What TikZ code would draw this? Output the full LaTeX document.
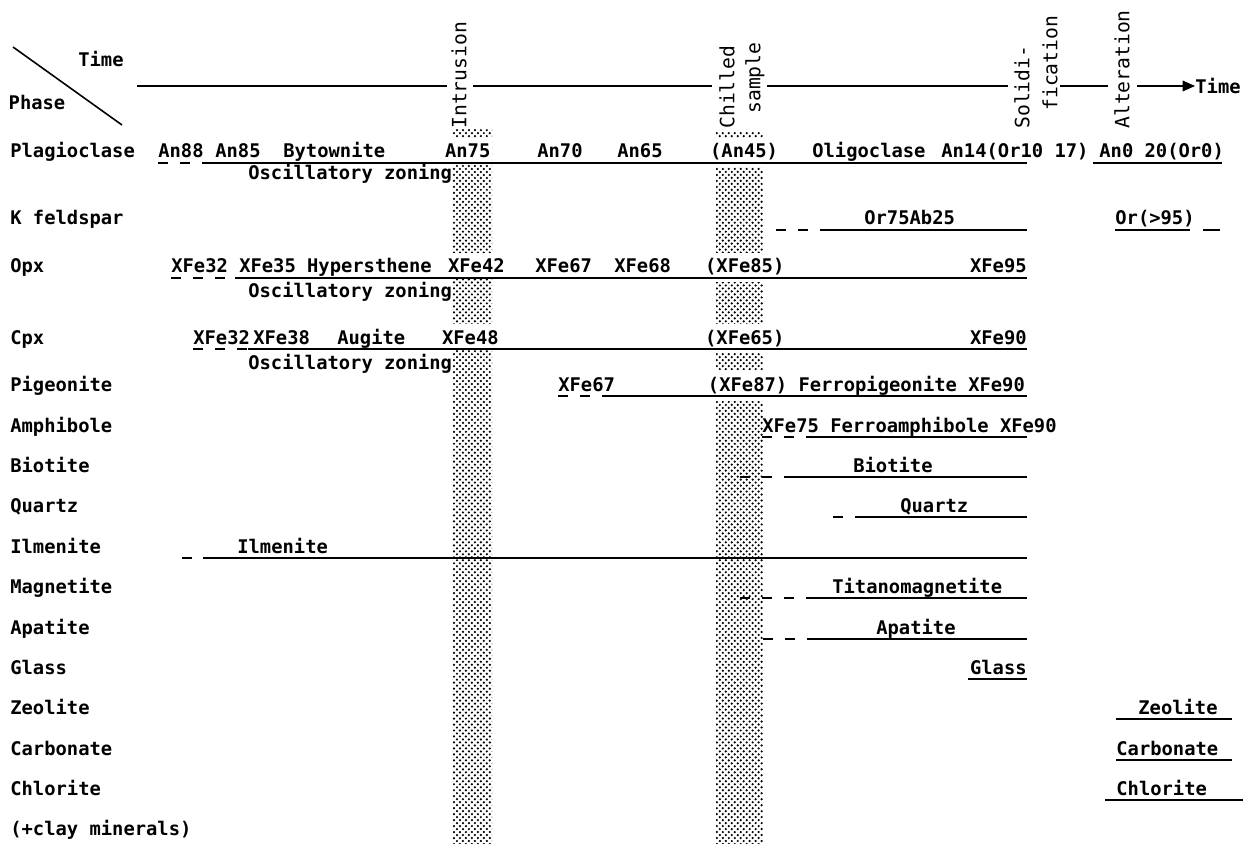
\documentclass[tikz,border=0pt]{standalone}
\usepackage{fontspec}
\usetikzlibrary{arrows.meta,patterns}
\newfontfamily\typfont{DejaVu Sans Mono}
% dense dot screen of the two time bands
\pgfdeclarepatternformonly{bardots}{\pgfpoint{-1pt}{-1pt}}{\pgfpoint{2.4pt}{2.4pt}}{\pgfpoint{3.4pt}{3.4pt}}%
{\pgfpathcircle{\pgfpointorigin}{.7pt}\pgfpathcircle{\pgfpoint{1.7pt}{1.7pt}}{.7pt}\pgfusepath{fill}}
\tikzset{
  phase/.style={anchor=base west, inner sep=0pt, font=\typfont\bfseries\fontsize{10.7}{12}\selectfont},
  val/.style={phase, fill=white, inner xsep=1pt, inner ysep=3.5pt},
  event/.style={rotate=90, anchor=west, inner sep=0pt, font=\typfont\fontsize{11.2}{13}\selectfont},
  bar/.style={pattern=bardots, pattern color=black},
  rangeline/.style={line width=0.9pt},
  leadline/.style={rangeline, dash pattern=on 5.5pt off 7pt},
}
\begin{document}
\begin{tikzpicture}[x=0.02cm, y=-0.02cm]
\useasboundingbox (0,0) rectangle (1257,844);
% shaded bars: intrusion and chilled sample
\fill[bar] (452,130) rectangle (492,844);
\fill[bar] (716,133) rectangle (763,844);
% heading
\draw[rangeline] (13,47) -- (122,125);
\node[phase, anchor=center] (tm) at (101,59) {Time};
\node[phase, anchor=center] (ph) at (37,102) {Phase};
\node[event] (intr) at (459,129) {Intrusion};
\node[event] (chil) at (727,129) {Chilled};
\node[event] (samp) at (755,114) {sample};
\node[event] (soli) at (1022,129) {Solidi-};
\node[event] (fica) at (1050,111) {fication};
\node[event] (alte) at (1122,129) {Alteration};
\node[phase, anchor=west] (tm2) at (1195,86) {Time};
\draw[rangeline] (137,86) -- (447,86) (473,86) -- (712,86) (767,86) -- (1008,86) (1060,86) -- (1108,86);
\draw[rangeline, -{Triangle[length=7pt,width=6pt]}] (1137,86) -- (tm2.west);
% phase names
\foreach \y/\lab [count=\i] in {158/Plagioclase, 225/K feldspar, 273/Opx, 344/Cpx, 391/Pigeonite,
  432/Amphibole, 472/Biotite, 512/Quartz, 553/Ilmenite, 593/Magnetite, 634/Apatite, 674/Glass,
  714/Zeolite, 755/Carbonate, 795/Chlorite, 835/(+clay minerals)}
  \node[phase] (r\i) at (10,\y) {\lab};
% plagioclase
\node[phase] (pl1) at (158,158) {An88};
\node[phase] (pl2) at (215,158) {An85};
\node[phase] (pl3) at (283,158) {Bytownite};
\node[val] (pl4) at (443,158) {An75};
\node[phase] (pl5) at (537,158) {An70};
\node[phase] (pl6) at (617,158) {An65};
\node[val] (pl7) at (708,158) {(An45)};
\node[phase] (pl8) at (812,158) {Oligoclase};
\node[phase] (pl9) at (941,158) {An14(Or10 17)};
\node[phase] (pl10) at (1099,158) {An0 20(Or0)};
\node[phase] (plz) at (248,180) {Oscillatory zoning};
% K feldspar
\node[phase] (kf1) at (864,225) {Or75Ab25};
\node[phase] (kf2) at (1115,225) {Or(>95)};
% opx
\node[phase] (op1) at (171,273) {XFe32 XFe35 Hypersthene};
\node[val] (op2) at (446,273) {XFe42};
\node[phase] (op3) at (535,273) {XFe67};
\node[phase] (op4) at (614,273) {XFe68};
\node[val] (op5) at (703,273) {(XFe85)};
\node[phase, anchor=base east] (op6) at (1027,273) {XFe95};
\node[phase] (opz) at (248,298) {Oscillatory zoning};
% cpx
\node[phase] (cp1) at (193,344) {XFe32};
\node[phase] (cp2) at (253,344) {XFe38};
\node[phase] (cp3) at (337,344) {Augite};
\node[val] (cp4) at (440,344) {XFe48};
\node[val] (cp5) at (703,344) {(XFe65)};
\node[phase, anchor=base east] (cp6) at (1027,344) {XFe90};
\node[phase] (cpz) at (248,369) {Oscillatory zoning};
% the rest
\node[phase] (pg1) at (558,391) {XFe67};
\node[val, anchor=base east] (pg2) at (1027,391) {(XFe87) Ferropigeonite XFe90};
\node[phase] (am1) at (762,432) {XFe75 Ferroamphibole XFe90};
\node[phase] (bi1) at (853,472) {Biotite};
\node[phase] (qz1) at (900,512) {Quartz};
\node[phase] (il1) at (237,553) {Ilmenite};
\node[phase] (mt1) at (832,593) {Titanomagnetite};
\node[phase] (ap1) at (876,634) {Apatite};
\node[phase, anchor=base east] (gl1) at (1027,674) {Glass};
\node[phase] (ze1) at (1138,714) {Zeolite};
\node[phase] (cb1) at (1116,755) {Carbonate};
\node[phase] (ch1) at (1116,795) {Chlorite};
% ranges: dashed start, solid part, end, height
\foreach \a/\b/\c/\y in {158/205/1027/163, 776/822/1027/230, 171/235/1027/278, 193/248/1027/349,
  558/604/1027/396, 762/808/1027/437, 740/786/1027/477, 833/855/1027/517, 182/203/1027/558,
  740/809/1027/598, 763/809/1027/639, 968/968/1027/679, 1093/1093/1222/163, 1115/1115/1190/230,
  1116/1116/1232/719, 1116/1116/1232/760, 1105/1105/1243/800}
{
  \draw[leadline] (\a,\y) -- (\b,\y);
  \draw[rangeline] (\b,\y) -- (\c,\y);
}
\draw[rangeline] (1203,230) -- (1220,230);
\end{tikzpicture}
\end{document}
